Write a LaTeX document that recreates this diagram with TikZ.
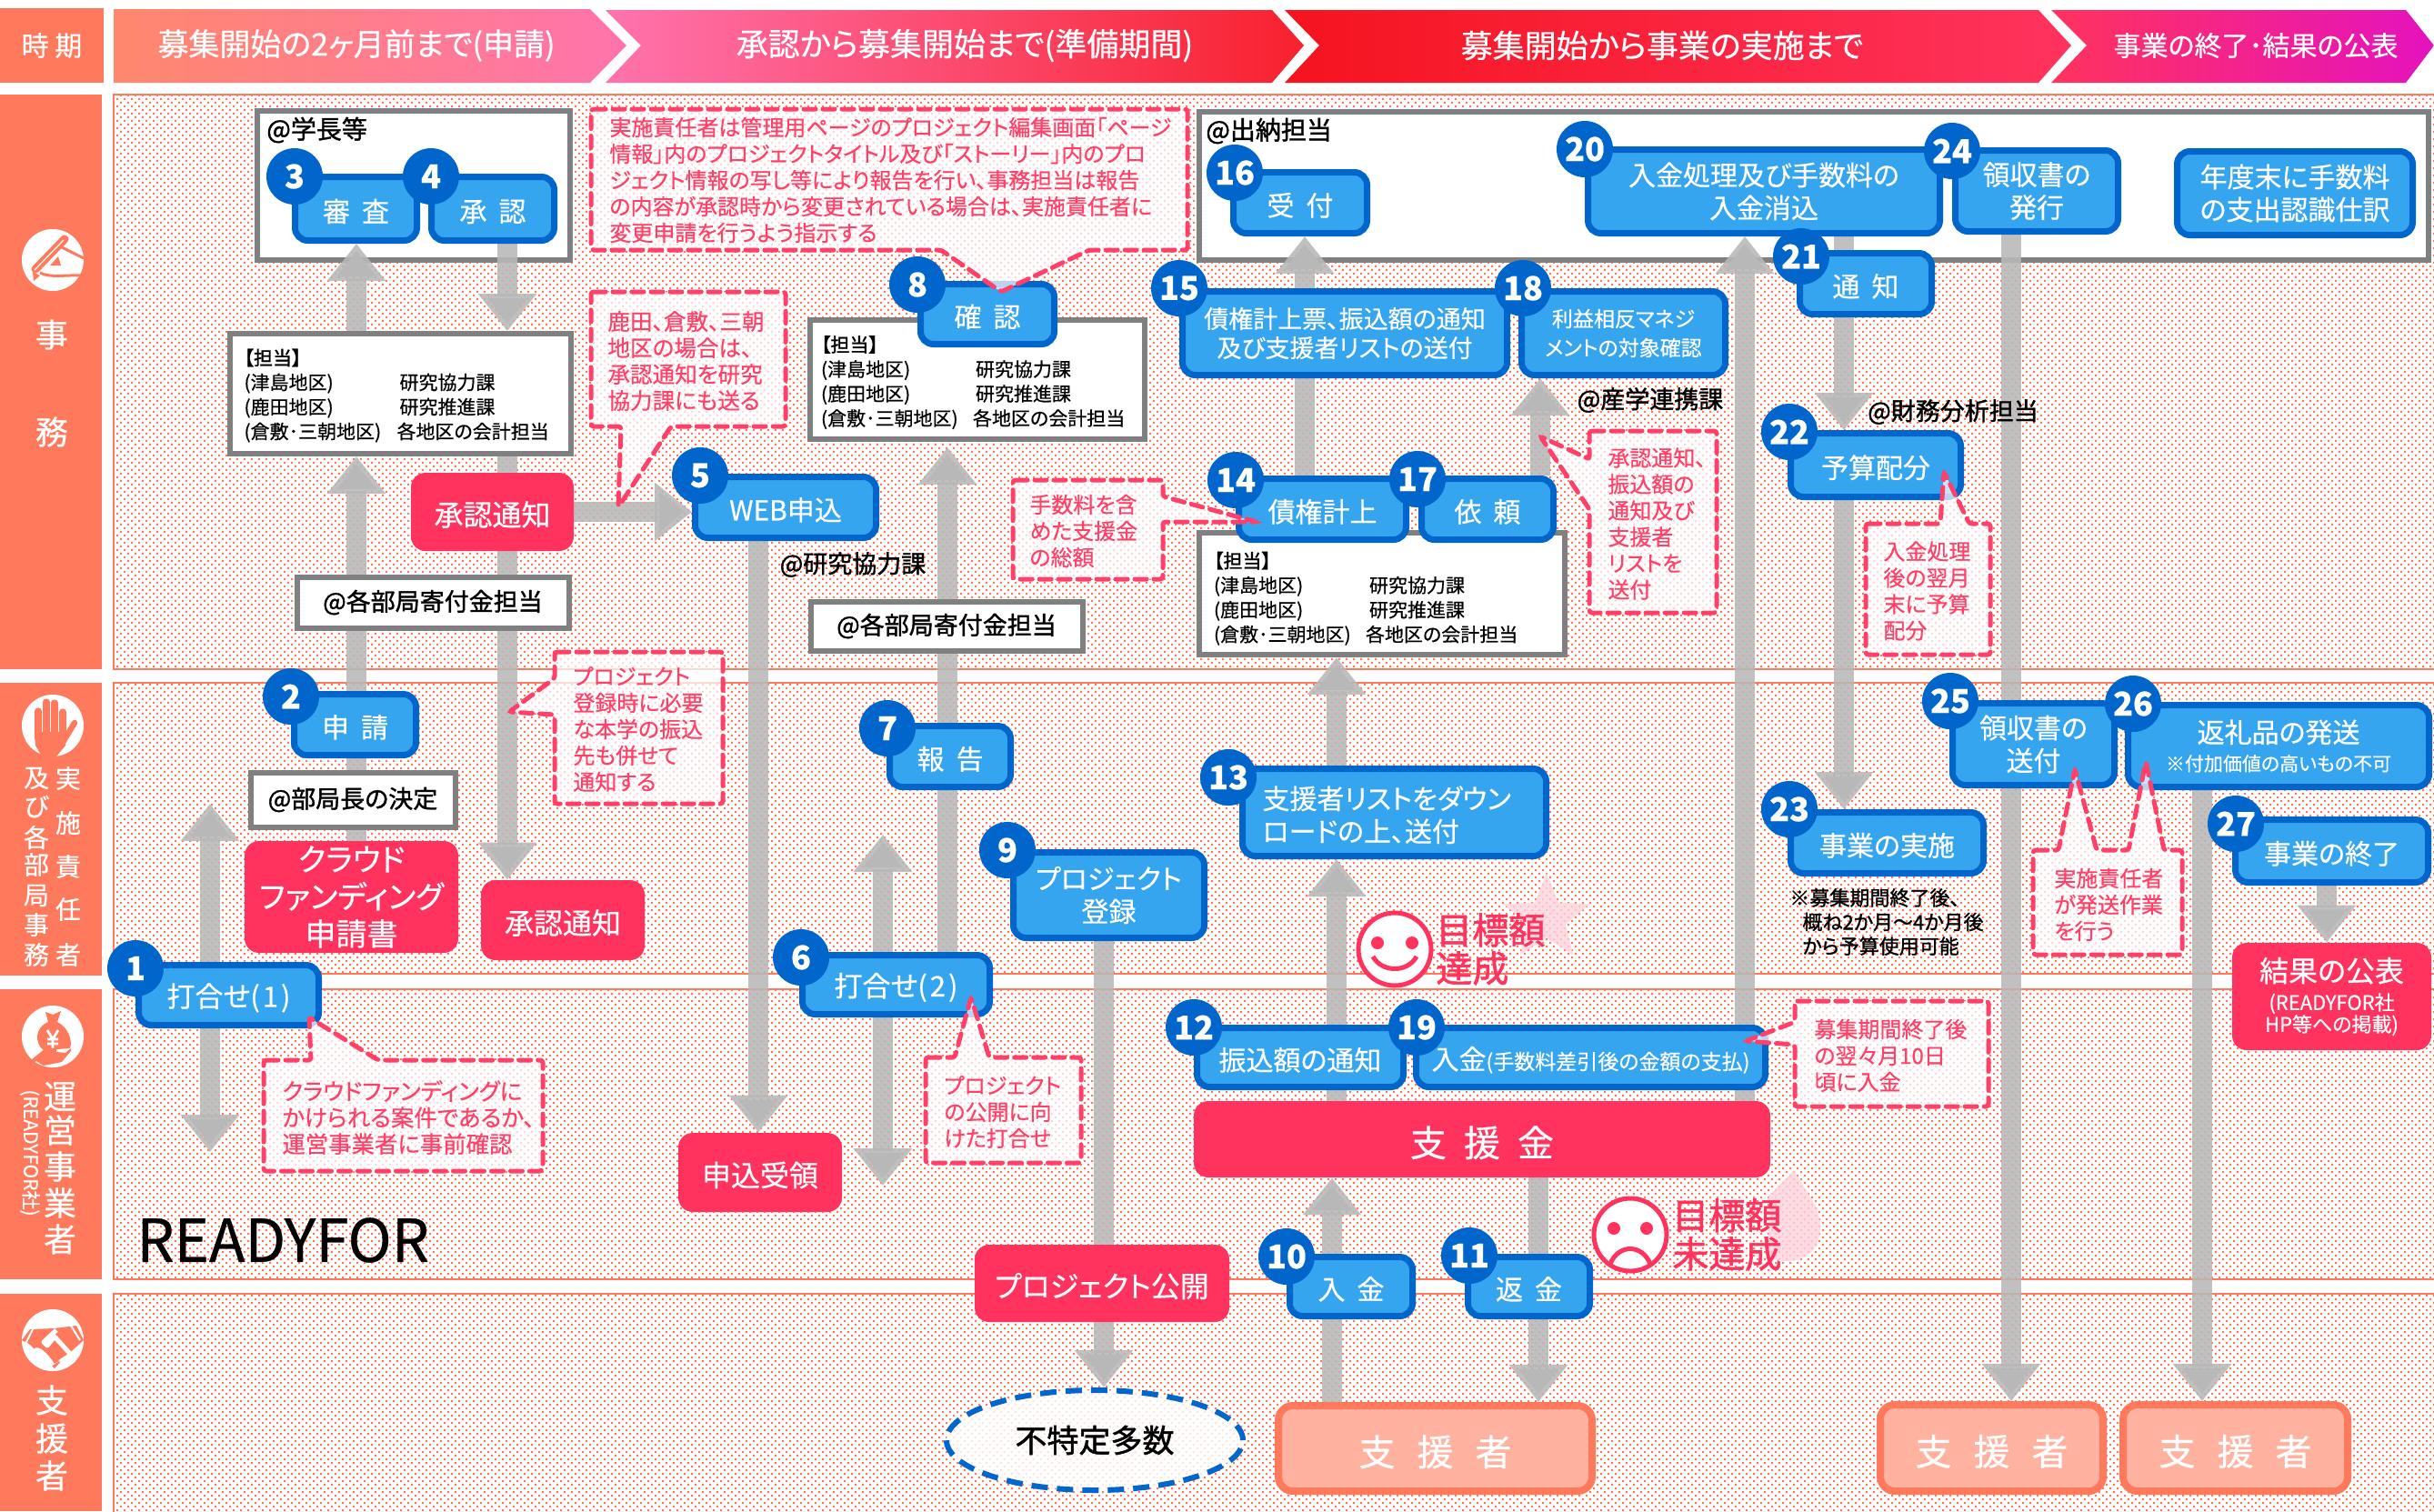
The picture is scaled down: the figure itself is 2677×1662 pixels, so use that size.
\documentclass[tikz,border=0pt]{standalone}
\usepackage{fontspec}
\setmainfont{Noto Sans CJK JP}[RawFeature={+palt;embolden=0.5}]
\newfontfamily\jpstrong{Noto Sans CJK JP}[RawFeature={+palt;embolden=1.4}]
\usetikzlibrary{arrows.meta,patterns,shapes.geometric,calc}
\definecolor{cor}{HTML}{FF7A5C}
\definecolor{cred}{HTML}{FF335E}
\definecolor{cblue}{HTML}{36A5F0}
\definecolor{cdblue}{HTML}{0066CC}
\definecolor{cgray}{HTML}{808080}
\definecolor{carrow}{HTML}{B8B8B8}
\definecolor{ccall}{HTML}{FF4068}
\definecolor{cpink}{HTML}{FF73AD}
\definecolor{cred2}{HTML}{F8212E}
\definecolor{cred3}{HTML}{F5141E}
\definecolor{cmag}{HTML}{E512BE}
\pgfdeclarepatternformonly{qdots}{\pgfqpoint{-1pt}{-1pt}}{\pgfqpoint{4pt}{4pt}}{\pgfqpoint{4pt}{4pt}}{%
  \pgfpathrectangle{\pgfqpoint{0pt}{0pt}}{\pgfqpoint{1pt}{1pt}}%
  \pgfpathrectangle{\pgfqpoint{2pt}{2pt}}{\pgfqpoint{1pt}{1pt}}%
  \pgfusepath{fill}}
\pgfdeclarelayer{bands}\pgfdeclarelayer{boxes}\pgfdeclarelayer{arr}
\pgfsetlayers{bands,boxes,arr,main}
\newcommand{\fsz}[2]{\fontsize{#1}{#2}\selectfont}
\newcommand{\gp}{\hspace{6.5pt}}
% inset, style, name, x1,y1,x2,y2, text
\newcommand{\mybox}[7]{%
  \pgfmathsetmacro\myCx{(#4+#6)/2}\pgfmathsetmacro\myCy{(#5+#7)/2}%
  \pgfmathsetmacro\myW{(#6-#4-#1)/2}\pgfmathsetmacro\myH{(#7-#5-#1)/2}%
  \node[#2,minimum width=\myW pt,minimum height=\myH pt] (#3) at (\myCx,\myCy)}
\newcommand{\gotanto}[3]{\rule{0pt}{#3pt}{\jpstrong 【担当】}\\\makebox[#1pt][l]{(津島地区)}研究協力課\\\makebox[#1pt][l]{(鹿田地区)}研究推進課\\\makebox[#2pt][l]{(倉敷･三朝地区)}各地区の会計担当}
\tikzset{
  lowered/.style={execute at begin node={\rule{0pt}{1.03em}}},
  bluen/.style={draw=cdblue,fill=cblue,line width=3.5pt,rounded corners=7pt,text=white,inner sep=0pt,align=center,font=\fsz{15}{18},lowered},
  redn/.style={fill=cred,rounded corners=8pt,text=white,inner sep=0pt,align=center,font=\fsz{16}{20},lowered},
  badge/.style={circle,fill=cdblue,text=white,minimum size=31pt,inner sep=0pt,font=\fsz{18}{20}\bfseries},
  whitebox/.style={draw=cgray,fill=white,line width=3pt,inner sep=0pt},
  tanto/.style={whitebox,align=left,font=\fsz{10.5}{13.5}},
  lab/.style={whitebox,font=\fsz{13.5}{16}\jpstrong,text=black},
  tag/.style={inner sep=0pt,font=\fsz{13.5}{16}\jpstrong,text=black},
  sidev/.style={inner sep=0pt,text=white},
  hdr/.style={inner sep=0pt,text=white,font=\fsz{17.5}{20}},
  band/.style={draw=cor,line width=1pt,pattern=qdots,pattern color=cor},
  gar/.style={draw=carrow,draw opacity=.88,line width=11pt,-{Triangle[length=20.5pt,width=31pt,fill=carrow]}},
  gdbl/.style={draw=carrow,draw opacity=.88,line width=11pt,{Triangle[length=20.5pt,width=31pt,fill=carrow]}-{Triangle[length=20.5pt,width=31pt,fill=carrow]}},
  callout/.style={draw=ccall,fill=white,fill opacity=.72,line width=2.5pt,dash pattern=on 6.5pt off 4pt,line cap=round,rounded corners=1.5pt},
  ctext/.style={inner sep=0pt,text=ccall,align=left,font=\fsz{12}{14.5}},
  sup/.style={draw=cor,fill=cor!58!white,line width=4pt,rounded corners=8pt,text=white,inner sep=0pt,font=\fsz{20}{22},lowered},
  goal/.style={inner sep=0pt,text=cred,align=left,font=\fsz{20}{21}\jpstrong},
  face/.style={circle,draw=cred,fill=white,line width=2.5pt,minimum size=40pt,inner sep=0pt},
  icon/.style={circle,fill=white,minimum size=34pt,inner sep=0pt},
}
\begin{document}
\begin{tikzpicture}[x=0.5pt,y=-0.5pt]
\useasboundingbox (0,0) rectangle (2677,1662);
\coordinate (x392) at (392,0); \coordinate (x558) at (558,0); \coordinate (x834) at (834,0);
\coordinate (x1042) at (1042,0); \coordinate (x1214) at (1214,0); \coordinate (x1435) at (1435,0);
\coordinate (x1465) at (1465,0); \coordinate (x1470) at (1470,0); \coordinate (x1692) at (1692,0);
\coordinate (x1694) at (1694,0); \coordinate (x1919) at (1919,0); \coordinate (x2028) at (2028,0);
\coordinate (x2212) at (2212,0); \coordinate (x2422) at (2422,0); \coordinate (x2559) at (2559,0);

\begin{pgfonlayer}{bands}
\fill[white] (0,0) rectangle (2677,1662);
\fill[cor] (0,9) rectangle (114,91);
\fill[cor] (0,104) rectangle (112,736);
\fill[cor] (0,751) rectangle (112,1073);
\fill[cor] (0,1088) rectangle (112,1407);
\fill[cor] (0,1423) rectangle (112,1662);
\shade[left color=cor!90!white,right color=cpink] (125,10) -- (649,10) -- (689,50) -- (649,91) -- (125,91) -- cycle;
\shade[left color=cpink,right color=cred2] (666,11) -- (1399,11) -- (1434,50) -- (1399,91) -- (666,91) -- (705,50) -- cycle;
\shade[left color=cred3,right color=cred] (1413,11) -- (2242,11) -- (2278,50) -- (2242,91) -- (1413,91) -- (1451,50) -- cycle;
\shade[left color=cred,right color=cmag] (2256,11) -- (2646,11) -- (2677,50) -- (2646,91) -- (2256,91) -- (2295,50) -- cycle;
\path[band] (125,104) rectangle (2680,736);
\path[band] (125,751) rectangle (2680,1071);
\path[band] (125,1088) rectangle (2680,1407);
\path[band] (125,1423) rectangle (2680,1670);
\end{pgfonlayer}

% header and side labels
\node[hdr,font=\fsz{15}{18}] (h0) at (57,50) {時 期};
\node[hdr,font=\fsz{17}{20}] (h1) at (392,50) {募集開始の2ヶ月前まで(申請)};
\node[hdr] (h2) at (1061,50) {承認から募集開始まで(準備期間)};
\node[hdr] (h3) at (1828,50) {募集開始から事業の実施まで};
\node[hdr,font=\fsz{15}{18}] (h4) at (2481,50) {事業の終了･結果の公表};
\node[sidev,font=\fsz{18}{20}] (v1) at (57,368) {事};
\node[sidev,font=\fsz{18}{20}] (v2) at (57,475) {務};
\foreach \c/\yy/\i in {実/856/1,施/905/2,責/953/3,任/1000/4,者/1050/5}
  \node[sidev,font=\fsz{14}{16}] (va\i) at (75,\yy) {\c};
\foreach \c/\yy/\i in {及/856/1,び/887/2,各/921/3,部/951/4,局/985/5,事/1017/6,務/1050/7}
  \node[sidev,font=\fsz{14}{16}] (vb\i) at (40,\yy) {\c};
\foreach \c/\yy/\i in {運/1206/1,営/1243/2,事/1283/3,業/1323/4,者/1363/5}
  \node[sidev,font=\fsz{18}{20}] (vc\i) at (66,\yy) {\c};
\node[sidev,font=\fsz{10.5}{12},rotate=-90] (vd) at (33,1268) {(READYFOR社)};
\foreach \c/\yy/\i in {支/1540/1,援/1582/2,者/1623/3}
  \node[sidev,font=\fsz{18}{20}] (ve\i) at (57,\yy) {\c};

% icons
\node[icon] (ic1) at (58,286) {};
\draw[cor,line width=4.5pt,line cap=round] (71,263) -- (39,296);
\draw[white,line width=.6pt] (70,264) -- (38,297);
\fill[cor] (36,299) -- (44,303) -- (37,309) -- cycle;
\fill[cor] (55,292) -- (64,282) -- (67,292) -- cycle;
\draw[cor,line width=1.5pt] (44,300) .. controls (55,306) and (75,302) .. (90,303);
\draw[cor,line width=1.5pt] (68,272) -- (92,284);

\node[icon] (ic2) at (58,798) {};
\foreach \xx/\yy in {42/782,51/772,60/773,69/783}
  \draw[cor,line width=3.6pt,line cap=round] (\xx,\yy) -- (\xx,812);
\fill[cor] (38,805) -- (73,805) -- (72,820) -- (62,832) -- (46,832) -- (39,820) -- cycle;
\draw[cor,line width=3.2pt,line cap=round] (70,815) -- (82,795);

\node[icon] (ic3) at (58,1140) {};
\fill[cor] (50,1113) -- (58,1116) -- (67,1112) -- (63,1124) .. controls (75,1130) and (80,1144) .. (77,1153) -- (48,1155) .. controls (38,1148) and (38,1130) .. (53,1124) -- cycle;
\draw[white,line width=1.4pt] (52,1133) -- (58,1143) -- (64,1133) (58,1143) -- (58,1153) (52,1143) -- (64,1143) (52,1148) -- (64,1148);
\fill[cor] (34,1166) -- (50,1153) -- (62,1153) -- (62,1157) -- (72,1158) -- (78,1153) -- (78,1156) -- (68,1168) -- (48,1172) -- (40,1167) -- (34,1172) -- cycle;

\node[icon] (ic4) at (58,1474) {};
\begin{scope}
\clip (58,1474) circle (34);
\fill[cor] (33,1462) -- (24,1474) -- (32,1478) -- (60,1505) -- (72,1492) -- (92,1474) -- (84,1458) -- (60,1461) -- cycle;
\draw[white,line width=1pt] (28,1478) -- (38,1458) (88,1474) -- (78,1458);
\fill[white] (37,1484) .. controls (42,1478) and (52,1488) .. (60,1500) -- (70,1494) -- (45,1510) -- cycle;
\draw[white,line width=2.5pt,line join=round] (62,1463) -- (48,1476) -- (52,1480) -- (60,1470) -- (78,1490) -- (66,1498);
\end{scope}

% container boxes
\begin{pgfonlayer}{boxes}
\mybox{6}{whitebox}{boxa}{280}{119}{630}{289} {};
\mybox{6}{whitebox}{boxb}{1316}{120}{2674}{289} {};
\mybox{6}{tanto,text width=172pt}{tan1}{250}{364}{631}{502} {\gotanto{85.5}{84}{11}};
\mybox{6}{tanto,text width=172pt}{tan2}{888}{349}{1262}{486} {\gotanto{85}{83.5}{12}};
\mybox{6}{tanto,text width=185pt}{tan3}{1316}{583}{1724}{723} {\gotanto{85.5}{83.5}{14.2}};
\end{pgfonlayer}

\node[tag,anchor=west,font=\fsz{14}{16}\jpstrong] (t1) at (293,143) {@学長等};
\node[tag,anchor=west,font=\fsz{14}{16}\jpstrong] (t2) at (1326,144) {@出納担当};
\node[tag] (t3) at (938,621) {@研究協力課};
\node[tag] (t4) at (1815,440) {@産学連携課};
\node[tag] (t5) at (2148,453) {@財務分析担当};

% white labels
\mybox{5}{lab}{lab1}{324}{632}{628}{693} {@各部局寄付金担当};
\mybox{5}{lab}{lab2}{889}{659}{1193}{718} {@各部局寄付金担当};
\mybox{5}{lab}{lab3}{273}{847}{503}{912} {@部局長の決定};

% red nodes
\mybox{0}{redn}{rn1}{452}{520}{631}{606} {承認通知};
\mybox{0}{redn}{rn2}{529}{968}{709}{1056} {承認通知};
\mybox{0}{redn,font=\fsz{17}{20.5}}{rn3}{269}{925}{504}{1048} {クラウド\\ファンディング\\申請書};
\mybox{0}{redn}{rn4}{746}{1246}{926}{1333} {申込受領};
\mybox{0}{redn}{rn5}{1072}{1369}{1352}{1454} {プロジェクト公開};
\mybox{0}{redn,font=\fsz{20}{22}}{rn6}{1313}{1211}{1947}{1295} {支\hspace{9.5pt}援\hspace{9.5pt}金};
\mybox{0}{redn}{rn7}{2455}{1037}{2674}{1155} {結果の公表\\[-4.5pt]{\fsz{11}{12.5}(READYFOR社}\\[-8pt]{\fsz{11}{12.5}HP等への掲載)}};

% supporters
\mybox{8}{sup}{sup1}{1402}{1542}{1755}{1644} {支\hspace{12pt}援\hspace{12pt}者};
\mybox{8}{sup}{sup2}{2064}{1541}{2317}{1644} {支\hspace{12pt}援\hspace{12pt}者};
\mybox{8}{sup}{sup3}{2331}{1541}{2586}{1644} {支\hspace{12pt}援\hspace{12pt}者};

% unspecified public
\node[ellipse,draw=cdblue,fill=white,fill opacity=.8,text opacity=1,line width=3pt,dash pattern=on 9pt off 5pt,minimum width=163pt,minimum height=55pt,inner sep=0pt,font=\fsz{17.5}{20}\jpstrong] (pub) at (1204,1584) {不特定多数};

% blue nodes
\mybox{7}{bluen,font=\fsz{15.5}{18}}{n1}{149}{1058}{354}{1131} {打合せ(\hspace{1.5pt}1\hspace{1.5pt})};
\mybox{7}{bluen}{n2}{320}{760}{461}{834} {申\gp 請};
\mybox{7}{bluen}{n3}{321}{191}{462}{268} {審\gp 査};
\mybox{7}{bluen}{n4}{471}{191}{613}{268} {承\gp 認};
\mybox{7}{bluen}{n5}{761}{521}{967}{595} {WEB申込};
\mybox{7}{bluen,font=\fsz{15.5}{18}}{n6}{879}{1047}{1092}{1119} {打合せ(\hspace{1.5pt}2\hspace{1.5pt})};
\mybox{7}{bluen}{n7}{975}{795}{1115}{869} {報\gp 告};
\mybox{7}{bluen}{n8}{1009}{309}{1163}{382} {確\gp 認};
\mybox{7}{bluen}{n9}{1111}{934}{1328}{1035} {プロジェクト\\登録};
\mybox{7}{bluen}{n10}{1415}{1379}{1557}{1451} {入\gp 金};
\mybox{7}{bluen}{n11}{1611}{1379}{1752}{1451} {返\gp 金};
\mybox{7}{bluen}{n12}{1313}{1127}{1547}{1199} {振込額の通知};
\mybox{7}{bluen,align=left,text width=145pt}{n13}{1363}{842}{1704}{945} {支援者リストをダウン\\ロードの上、送付};
\mybox{7}{bluen}{n14}{1359}{523}{1550}{597} {債権計上};
\mybox{7}{bluen,font=\fsz{13.5}{16}}{n15}{1297}{317}{1661}{416} {債権計上票、振込額の通知\\及び支援者リストの送付};
\mybox{7}{bluen}{n16}{1353}{186}{1507}{260} {受\gp 付};
\mybox{7}{bluen}{n17}{1560}{523}{1712}{597} {依\gp 頼};
\mybox{7}{bluen,font=\fsz{11.5}{16}}{n18}{1670}{317}{1901}{416} {利益相反マネジ\\メントの対象確認};
\mybox{7}{bluen}{n19}{1554}{1127}{1945}{1199} {入金{\fsz{11.5}{13}(手数料差引後の金額の支払)}};
\mybox{7}{bluen}{n20}{1743}{161}{2137}{260} {入金処理及び手数料の\\入金消込};
\mybox{7}{bluen}{n21}{1976}{275}{2128}{349} {通\gp 知};
\mybox{7}{bluen}{n22}{1966}{473}{2160}{550} {予算配分};
\mybox{7}{bluen}{n23}{1966}{890}{2185}{964} {事業の実施};
\mybox{7}{bluen}{n24}{2147}{162}{2333}{258} {領収書の\\発行};
\mybox{7}{bluen}{n25}{2144}{770}{2329}{867} {領収書の\\送付};
\mybox{7}{bluen}{n26}{2337}{772}{2675}{869} {返礼品の発送\\[-2.5pt]{\fsz{10.5}{12}※付加価値の高いもの不可}};
\mybox{7}{bluen}{n27}{2455}{898}{2674}{974} {事業の終了};
\mybox{7}{bluen}{nx}{2391}{163}{2657}{262} {年度末に手数料\\の支出認識仕訳};

% gray arrows
\begin{pgfonlayer}{arr}
\coordinate (a1t) at (231,884); \coordinate (a1b) at (231,1267);
\coordinate (a6t) at (971,918); \coordinate (a6b) at (971,1304);
\draw[gdbl] (a1t) -- (a1b);
\draw[gdbl] (a6t) -- (a6b);
\draw[gar] (rn3.north -| x392) -- (tan1.south -| x392);
\draw[gar] (tan1.north -| x392) -- (n3.south -| x392);
\draw[gar] (n4.south -| x558) -- (tan1.north -| x558);
\draw[gar] (tan1.south -| x558) -- (rn2.north -| x558);
\draw[gar] (rn1.east) -- (n5.west |- rn1.east);
\draw[gar] (n5.south -| x834) -- (rn4.north -| x834);
\draw[gar,shorten >=3pt] (n6.north -| x1042) -- (tan2.south -| x1042);
\draw[gar] (n9.south -| x1214) -- (pub.north -| x1214);
\draw[gar] (sup1.north -| x1465) -- (rn6.south -| x1465);
\draw[gar] (rn6.south -| x1692) -- (sup1.north -| x1692);
\draw[gar] (rn6.north -| x1470) -- (n13.south -| x1470);
\draw[gar] (n13.north -| x1470) -- (tan3.south -| x1470);
\draw[gar] (n14.north -| x1435) -- (n16.south -| x1435);
\draw[gar] (n17.north -| x1694) -- (n18.south -| x1694);
\draw[gar] (rn6.north -| x1919) -- (n20.south -| x1919);
\draw[gar] (n20.south -| x2028) -- (n22.north -| x2028);
\draw[gar] (n22.south -| x2028) -- (n23.north -| x2028);
\draw[gar] (n24.south -| x2212) -- (sup2.north -| x2212);
\draw[gar] (n26.south -| x2422) -- (sup3.north -| x2422);
\draw[gar] (n27.south -| x2559) -- (rn7.north -| x2559);
\end{pgfonlayer}

% badges
\foreach \lbl/\xx/\yy in {1/149/1065,2/320/766,3/324/194,4/474/194,5/770/523,6/881/1053,7/976/801,8/1009/313,9/1108/935,10/1415/1382,11/1616/1381,12/1313/1130,13/1351/855,14/1359/528,15/1297/317,16/1358/190,17/1559/527,18/1675/317,19/1558/1130,20/1743/164,21/1981/282,22/1968/475,23/1968/890,24/2147/166,25/2145/771,26/2346/774,27/2459/906}
  \node[badge] (b\lbl) at (\xx,\yy) {\lbl};

% callouts
\draw[callout] (650,120) -- (1306,120) -- (1306,275) -- (1198,275) -- (1101,321) -- (1035,275) -- (650,275) -- cycle;
\node[ctext] (c1) at (670,198) [anchor=west] {実施責任者は管理用ページのプロジェクト編集画面「ページ\\情報」内のプロジェクトタイトル及び「ストーリー」内のプロ\\ジェクト情報の写し等により報告を行い、事務担当は報告\\の内容が承認時から変更されている場合は、実施責任者に\\変更申請を行うよう指示する};
\draw[callout] (650,321) -- (864,321) -- (864,469) -- (738,469) -- (680,558) -- (683,469) -- (650,469) -- cycle;
\node[ctext,font=\fsz{12.3}{14.5}] (c2) at (668,397) [anchor=west] {鹿田、倉敷、三朝\\地区の場合は、\\承認通知を研究\\協力課にも送る};
\draw[callout] (610,717) -- (795,717) -- (795,884) -- (610,884) -- (610,786) -- (560,783) -- (610,746) -- cycle;
\node[ctext] (c3) at (630,802) [anchor=west] {プロジェクト\\登録時に必要\\な本学の振込\\先も併せて\\通知する};
\draw[callout] (290,1166) -- (342,1166) -- (340,1119) -- (416,1166) -- (597,1166) -- (597,1288) -- (290,1288) -- cycle;
\node[ctext,font=\fsz{12.7}{14.5}] (c4) at (310,1229) [anchor=west] {クラウドファンディングに\\かけられる案件であるか、\\運営事業者に事前確認};
\draw[callout] (1018,1163) -- (1050,1163) -- (1068,1097) -- (1088,1163) -- (1189,1163) -- (1189,1279) -- (1018,1279) -- cycle;
\node[ctext] (c5) at (1038,1223) [anchor=west] {プロジェクト\\の公開に向\\けた打合せ};
\draw[callout] (1114,528) -- (1279,528) -- (1279,546) -- (1382,574) -- (1279,574) -- (1279,637) -- (1114,637) -- cycle;
\node[ctext] (c6) at (1132,584) [anchor=west] {手数料を含\\めた支援金\\の総額};
\draw[callout] (1748,474) -- (1888,474) -- (1888,674) -- (1748,674) -- (1748,560) -- (1694,480) -- (1748,505) -- cycle;
\node[ctext] (c7) at (1768,576) [anchor=west] {承認通知、\\振込額の\\通知及び\\支援者\\リストを\\送付};
\draw[callout] (2052,576) -- (2134,576) -- (2138,519) -- (2166,576) -- (2189,576) -- (2189,720) -- (2052,720) -- cycle;
\node[ctext] (c8) at (2071,650) [anchor=west] {入金処理\\後の翌月\\末に予算\\配分};
\draw[callout] (2236,935) -- (2264,935) -- (2282,846) -- (2306,935) -- (2341,935) -- (2360,837) -- (2380,935) -- (2400,935) -- (2400,1050) -- (2236,1050) -- cycle;
\node[ctext] (c9) at (2259,995) [anchor=west] {実施責任者\\が発送作業\\を行う};
\draw[callout] (1974,1101) -- (2187,1101) -- (2187,1217) -- (1974,1217) -- (1974,1149) -- (1920,1145) -- (1974,1124) -- cycle;
\node[ctext] (c10) at (1995,1161) [anchor=west] {募集期間終了後\\の翌々月10日\\頃に入金};

% notes
\node[inner sep=0pt,anchor=west,align=left,font=\fsz{11}{13.3}\jpstrong] (note) at (1968,1014) {※募集期間終了後、\\\hspace*{7pt}概ね2か月～4か月後\\\hspace*{7pt}から予算使用可能};
\node[inner sep=0pt,anchor=west,font=\fsz{32.5}{34}] (rf) at (150,1364) {READYFOR};

% goal marks
\node[star,star points=5,star point ratio=2.3,fill=cred!22!white,fill opacity=.8,minimum size=50pt,inner sep=0pt] (st) at (1701,1010) {};
\fill[cred!22!white,opacity=.8] (1973,1287) .. controls (1985,1310) and (2002,1325) .. (2002,1350) .. controls (2002,1372) and (1988,1387) .. (1965,1387) .. controls (1950,1387) and (1945,1380) .. (1945,1380) -- (1945,1315) -- cycle;
\node[face] (sm) at (1534,1044) {};
\fill[cred] (1515,1037) circle (7) (1553,1037) circle (7);
\draw[cred,line width=2.5pt] (1510,1052) .. controls (1520,1070) and (1548,1070) .. (1558,1052);
\node[goal,anchor=west] (g1) at (1579,1044) {目標額\\達成};
\node[face] (sd) at (1793,1358) {};
\fill[cred] (1775,1351) circle (7) (1811,1351) circle (7);
\draw[cred,line width=2.5pt] (1771,1390) .. controls (1780,1368) and (1806,1368) .. (1815,1390);
\node[goal,anchor=west] (g2) at (1839,1358) {目標額\\未達成};
\end{tikzpicture}
\end{document}
